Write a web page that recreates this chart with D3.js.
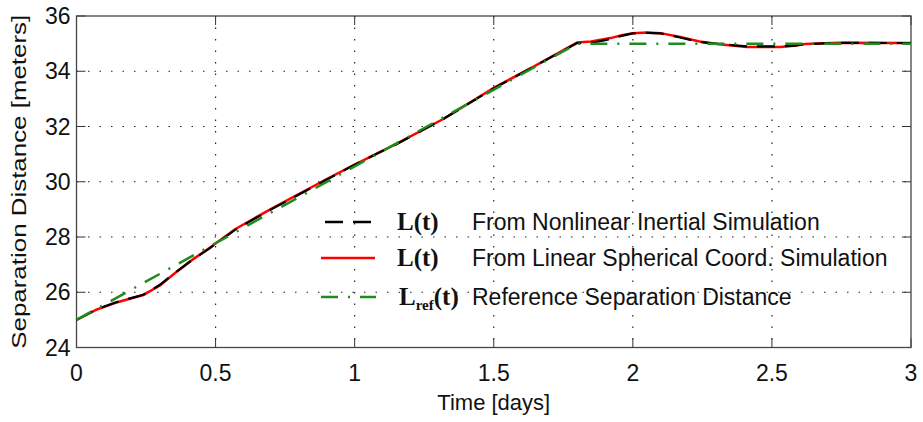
<!DOCTYPE html>
<html>
<head>
<meta charset="utf-8">
<script src="https://cdn.jsdelivr.net/npm/d3@7"></script>
<style>
  body { margin: 0; background: #fff; }
  svg { display: block; }
  text { font-family: "Liberation Sans", Arial, sans-serif; fill: #111; }
  text.sym { font-family: "Liberation Serif", "Times New Roman", serif; font-weight: bold; }
</style>
</head>
<body>
<svg width="923" height="422"></svg>
<script>
const svg = d3.select('svg');

// ---- data ----
const xTicks = [0, 0.5, 1, 1.5, 2, 2.5, 3];
const yTicks = [24, 26, 28, 30, 32, 34, 36];

// nonlinear inertial simulation (black dashed)
const tNonlin = [0, 0.07, 0.14, 0.24, 0.30, 0.36, 0.42, 0.48, 0.57, 0.70, 0.90, 1.0, 1.15, 1.32, 1.5, 1.65, 1.80, 1.86, 1.92, 1.96, 2.0, 2.05, 2.1, 2.17, 2.24, 2.31, 2.41, 2.53, 2.58, 2.62, 2.74, 3.0];
const vNonlin = [25.0, 25.37, 25.63, 25.91, 26.27, 26.75, 27.2, 27.6, 28.26, 29.0, 30.08, 30.62, 31.36, 32.28, 33.38, 34.2, 35.02, 35.04, 35.17, 35.28, 35.37, 35.39, 35.37, 35.22, 35.06, 34.98, 34.9, 34.9, 34.93, 34.98, 35.03, 35.02];

// linear spherical coord. simulation (red solid)
const tLinear = [0, 0.07, 0.14, 0.24, 0.30, 0.36, 0.42, 0.48, 0.57, 0.70, 0.90, 1.0, 1.15, 1.32, 1.5, 1.65, 1.80, 1.85, 1.92, 1.96, 2.0, 2.05, 2.1, 2.17, 2.24, 2.31, 2.41, 2.53, 2.58, 2.62, 2.74, 3.0];
const vLinear = [25.0, 25.36, 25.62, 25.9, 26.25, 26.74, 27.2, 27.62, 28.28, 29.02, 30.1, 30.62, 31.37, 32.28, 33.4, 34.2, 35.04, 35.08, 35.2, 35.3, 35.38, 35.4, 35.38, 35.24, 35.08, 34.98, 34.88, 34.88, 34.92, 34.99, 35.03, 35.02];

// reference separation distance (green dash-dot)
const tRef = [0, 1.8, 3];
const vRef = [25, 35, 35];

const legendNames = ['From Nonlinear Inertial Simulation', 'From Linear Spherical Coord. Simulation', 'Reference Separation Distance'];

// ---- layout ----
const margin = { left: 76.5, top: 16, right: 12, bottom: 74.5 };
const innerW = 923 - margin.left - margin.right;
const innerH = 422 - margin.top - margin.bottom;

const x = d3.scaleLinear().domain([0, 3]).range([0, innerW]);
const y = d3.scaleLinear().domain([24, 36]).range([innerH, 0]);

const g = svg.append('g').attr('transform', `translate(${margin.left},${margin.top})`);

// grid (dotted)
g.selectAll('.gx').data(xTicks.slice(1, -1)).enter().append('line')
  .attr('x1', d => x(d)).attr('x2', d => x(d))
  .attr('y1', 0).attr('y2', innerH)
  .attr('stroke', '#222').attr('stroke-width', 1.2)
  .attr('stroke-dasharray', '1.5,10');
g.selectAll('.gy').data(yTicks.slice(1, -1)).enter().append('line')
  .attr('y1', d => y(d)).attr('y2', d => y(d))
  .attr('x1', 0).attr('x2', innerW)
  .attr('stroke', '#222').attr('stroke-width', 1.2)
  .attr('stroke-dasharray', '1.5,10');

// inward ticks on all four sides
const tickLen = 9;
xTicks.forEach(t => {
  g.append('line').attr('x1', x(t)).attr('x2', x(t)).attr('y1', innerH).attr('y2', innerH - tickLen).attr('stroke', '#333');
  g.append('line').attr('x1', x(t)).attr('x2', x(t)).attr('y1', 0).attr('y2', tickLen).attr('stroke', '#333');
});
yTicks.forEach(t => {
  g.append('line').attr('y1', y(t)).attr('y2', y(t)).attr('x1', 0).attr('x2', tickLen).attr('stroke', '#333');
  g.append('line').attr('y1', y(t)).attr('y2', y(t)).attr('x1', innerW).attr('x2', innerW - tickLen).attr('stroke', '#333');
});

// frame
g.append('rect').attr('width', innerW).attr('height', innerH)
  .attr('fill', 'none').attr('stroke', '#444').attr('stroke-width', 1.3);

// tick labels
g.selectAll('.xl').data(xTicks).enter().append('text')
  .attr('x', d => x(d)).attr('y', innerH + 33)
  .attr('text-anchor', 'middle').attr('font-size', 23)
  .text(d => d);
g.selectAll('.yl').data(yTicks).enter().append('text')
  .attr('x', -6).attr('y', d => y(d) + 8)
  .attr('text-anchor', 'end').attr('font-size', 23)
  .text(d => d);

// axis labels
g.append('text').attr('x', innerW / 2).attr('y', innerH + 62)
  .attr('text-anchor', 'middle').attr('font-size', 22)
  .text('Time [days]');
g.append('text')
  .attr('transform', `translate(-51,${innerH / 2}) rotate(-90)`)
  .attr('text-anchor', 'middle').attr('font-size', 21)
  .attr('textLength', 334).attr('lengthAdjust', 'spacingAndGlyphs')
  .text('Separation Distance [meters]');

// curves
const line = d3.line().x(d => x(d[0])).y(d => y(d[1]));
const zip = (a, b) => a.map((t, i) => [t, b[i]]);

g.append('path').datum(zip(tLinear, vLinear))
  .attr('d', line).attr('fill', 'none')
  .attr('stroke', '#ff0000').attr('stroke-width', 2.5);
g.append('path').datum(zip(tNonlin, vNonlin))
  .attr('d', line).attr('fill', 'none')
  .attr('stroke', '#000').attr('stroke-width', 2.2)
  .attr('stroke-dasharray', '18,10');
g.append('path').datum(zip(tRef, vRef))
  .attr('d', line).attr('fill', 'none')
  .attr('stroke', '#1e8c1e').attr('stroke-width', 2.5)
  .attr('stroke-dasharray', '17,10,2,10');

// legend (no box)
const legend = svg.append('g');
const rows = [
  { y: 222, color: '#000', dash: '18,10', x1: 325, x2: 372 },
  { y: 258, color: '#ff0000', dash: null, x1: 321, x2: 375 },
  { y: 297, color: '#1e8c1e', dash: '17,10,2,10', x1: 321, x2: 376 }
];
rows.forEach((r, i) => {
  legend.append('line')
    .attr('x1', r.x1).attr('x2', r.x2).attr('y1', r.y).attr('y2', r.y)
    .attr('stroke', r.color).attr('stroke-width', 2.5)
    .attr('stroke-dasharray', r.dash);
  const sym = legend.append('text')
    .attr('class', 'sym')
    .attr('x', 397).attr('y', r.y + 8)
    .attr('font-size', 25);
  if (i < 2) {
    sym.text('L(t)');
  } else {
    sym.attr('x', 399);
    sym.append('tspan').text('L');
    sym.append('tspan').attr('font-size', 15).attr('dy', 5).text('ref');
    sym.append('tspan').attr('dy', -5).text('(t)');
  }
  legend.append('text')
    .attr('x', 472).attr('y', r.y + 8)
    .attr('font-size', 23)
    .text(legendNames[i]);
});
</script>
</body>
</html>
